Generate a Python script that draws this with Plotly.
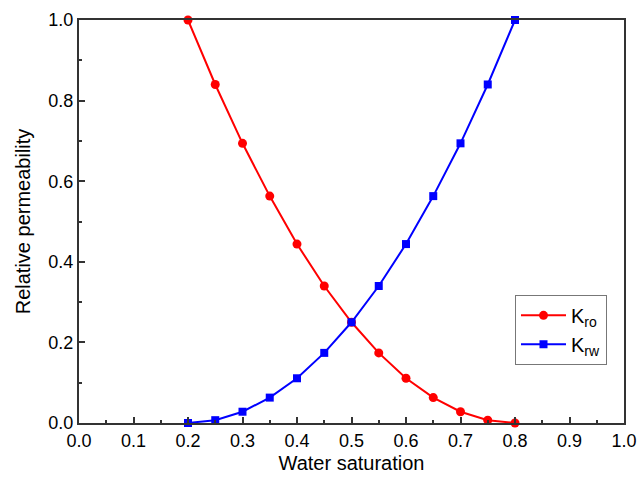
import plotly.graph_objects as go

sw = [0.20, 0.25, 0.30, 0.35, 0.40, 0.45, 0.50, 0.55, 0.60, 0.65, 0.70, 0.75, 0.80]
kro = [1.000, 0.840, 0.694, 0.563, 0.444, 0.340, 0.250, 0.174, 0.111, 0.063, 0.028, 0.007, 0.000]
krw = [0.000, 0.007, 0.028, 0.063, 0.111, 0.174, 0.250, 0.340, 0.444, 0.563, 0.694, 0.840, 1.000]

fig = go.Figure()
fig.add_trace(go.Scatter(x=sw, y=kro, mode="lines+markers", name="K<sub>ro</sub>",
                         line=dict(color="#ff0000", width=2),
                         marker=dict(symbol="circle", size=9, color="#ff0000"),
                         cliponaxis=False))
fig.add_trace(go.Scatter(x=sw, y=krw, mode="lines+markers", name="K<sub>rw</sub>",
                         line=dict(color="#0000ff", width=2),
                         marker=dict(symbol="square", size=8, color="#0000ff"),
                         cliponaxis=False))

axis_common = dict(showline=True, linecolor="#333333", linewidth=2, mirror=True,
                   ticks="inside", ticklen=6, tickwidth=1.5, tickcolor="#333333",
                   showgrid=False, zeroline=False,
                   tickfont=dict(family="Liberation Sans, Arial", size=18, color="#000"),
                   tickformat=".1f")

fig.update_layout(
    width=638, height=480,
    margin=dict(l=79, r=14, t=20, b=57, autoexpand=False),
    plot_bgcolor="white", paper_bgcolor="white",
    font=dict(family="Liberation Sans, Arial", color="#000"),
    xaxis=dict(range=[0, 1], dtick=0.1, tick0=0,
               minor=dict(dtick=0.05, ticks="inside", ticklen=3, tickcolor="#333333", tickwidth=1.5),
               title=dict(text="Water saturation", font=dict(size=20), standoff=6),
               **axis_common),
    yaxis=dict(range=[0, 1], dtick=0.2, tick0=0,
               minor=dict(dtick=0.1, ticks="inside", ticklen=3, tickcolor="#333333", tickwidth=1.5),
               title=dict(text="Relative permeability", font=dict(size=20), standoff=12),
               **axis_common),
    legend=dict(x=0.8, y=0.318, xanchor="left", yanchor="top",
                bordercolor="#777777", borderwidth=1, bgcolor="white",
                font=dict(size=20), tracegroupgap=0, itemwidth=45),
    showlegend=True,
)

fig.write_html("out.html", config={"displayModeBar": False},
               post_script="document.body.style.margin='0';document.body.style.overflow='hidden';")
